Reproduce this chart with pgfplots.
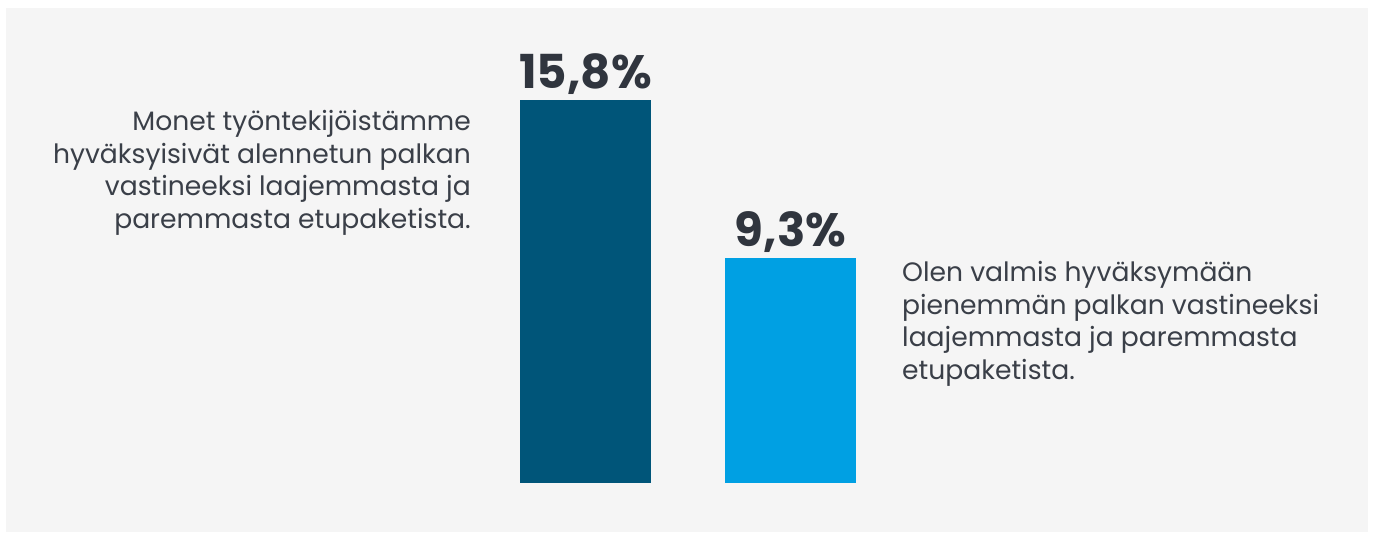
\documentclass[border=0pt]{standalone}
\usepackage{pgfplots}
\pgfplotsset{compat=1.18}
\usepackage{fontspec}
\setmainfont{Poppins}
\definecolor{panel}{HTML}{F5F5F5}
\definecolor{darkbar}{HTML}{005579}
\definecolor{lightbar}{HTML}{00A0E3}
\definecolor{txt}{HTML}{30353E}
\definecolor{txtl}{HTML}{3A3F48}
\begin{document}
\begin{tikzpicture}
\begin{axis}[
  set layers,
  width=1373bp, height=535bp, scale only axis,
  xmin=0, xmax=1373,
  ymin=-2.147, ymax=19.938,
  axis lines=none,
  clip=false,
  ybar, bar width=131, bar shift=0pt,
  /pgf/number format/.cd, fixed, fixed zerofill, precision=1, use comma, assume math mode=true,
  /pgfplots/.cd,
  nodes near coords={\pgfmathprintnumber{\pgfplotspointmeta}\%},
  every node near coord/.append style={font=\fontsize{46.8bp}{56bp}\selectfont\bfseries, text=txt, anchor=base, inner sep=0pt, yshift=11.5bp},
]
\begin{pgfonlayer}{axis background}
\fill[white] (axis cs:0,-2.147) rectangle (axis cs:1373,19.938);
\fill[panel] (axis cs:6,{(483-532)/24.22}) rectangle (axis cs:1368,{(483-8)/24.22});
\end{pgfonlayer}
\addplot[fill=darkbar, draw=none] coordinates {(585.5,15.8)};
\addplot[fill=lightbar, draw=none] coordinates {(790.5,9.3)};
\begin{scope}[every node/.style={inner sep=0pt, text=txtl, font=\fontsize{26.6bp}{32bp}\selectfont}]
\node[anchor=base east] at (axis cs:471,{(483-131)/24.22}) {Monet työntekijöistämme};
\node[anchor=base east] at (axis cs:471,{(483-163.5)/24.22}) {hyväksyisivät alennetun palkan};
\node[anchor=base east] at (axis cs:471,{(483-196)/24.22}) {vastineeksi laajemmasta ja};
\node[anchor=base east] at (axis cs:471,{(483-228.5)/24.22}) {paremmasta etupaketista.};
\node[anchor=base west] at (axis cs:902,{(483-282)/24.22}) {Olen valmis hyväksymään};
\node[anchor=base west] at (axis cs:902,{(483-314.5)/24.22}) {pienemmän palkan vastineeksi};
\node[anchor=base west] at (axis cs:902,{(483-347)/24.22}) {laajemmasta ja paremmasta};
\node[anchor=base west] at (axis cs:902,{(483-379.5)/24.22}) {etupaketista.};
\end{scope}
\end{axis}
\end{tikzpicture}
\end{document}
